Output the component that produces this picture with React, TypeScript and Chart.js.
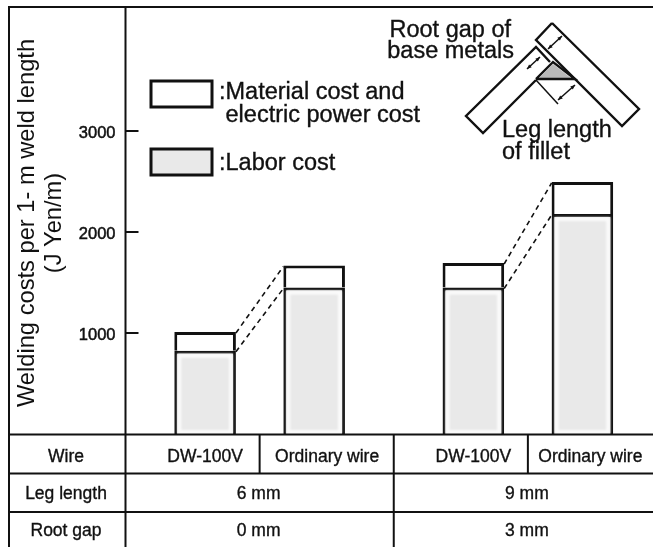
import React, { useEffect, useRef } from "react";
import { Chart, registerables } from "chart.js";

Chart.register(...registerables);

const groups = ["6 mm", "9 mm"];
const rootGaps = ["0 mm", "3 mm"];
const wires = ["DW-100V", "Ordinary wire"];
const dwLabor = [825, 1450];
const dwMaterial = [185, 243];
const ordinaryLabor = [1450, 2178];
const ordinaryMaterial = [218, 317];
const yTicks = [1000, 2000, 3000];
const rowLabels = ["Wire", "Leg length", "Root gap"];
const yTitle = ["Welding costs per 1- m weld length", "(J Yen/m)"];
const materialLegend = [":Material cost and", " electric power cost"];
const laborLegend = [":Labor cost"];
const rootGapNote = ["Root gap of", "base metals"];
const legNote = ["Leg length", "of fillet"];

const FONT = '"Liberation Sans", Arial, sans-serif';
const INK = "#111111";
const GREY = "#e9e9e9";

function line(ctx: CanvasRenderingContext2D, pts: number[], w = 2) {
  ctx.lineWidth = w;
  ctx.beginPath();
  ctx.moveTo(pts[0], pts[1]);
  for (let i = 2; i < pts.length; i += 2) ctx.lineTo(pts[i], pts[i + 1]);
  ctx.stroke();
}

function label(ctx: CanvasRenderingContext2D, s: string, x: number, y: number, size: number, align: CanvasTextAlign = "center") {
  ctx.font = `${size}px ${FONT}`;
  ctx.textAlign = align;
  ctx.textBaseline = "middle";
  ctx.fillText(s, x, y);
  ctx.lineWidth = 0.35;
  ctx.strokeText(s, x, y);
}

function arrow(ctx: CanvasRenderingContext2D, x1: number, y1: number, x2: number, y2: number) {
  line(ctx, [x1, y1, x2, y2], 1.5);
  const a = Math.atan2(y2 - y1, x2 - x1);
  for (const [x, y, d] of [[x1, y1, a], [x2, y2, a + Math.PI]]) {
    ctx.beginPath();
    ctx.moveTo(x, y);
    ctx.lineTo(x + 5 * Math.cos(d + 0.4), y + 5 * Math.sin(d + 0.4));
    ctx.lineTo(x + 5 * Math.cos(d - 0.4), y + 5 * Math.sin(d - 0.4));
    ctx.closePath();
    ctx.fill();
  }
}

const softenBars = {
  id: "softenBars",
  afterDatasetsDraw(chart: any) {
    const ctx = chart.ctx;
    ctx.save();
    ctx.strokeStyle = "rgba(255,255,255,0.8)";
    ctx.filter = "blur(1px)";
    ctx.lineWidth = 4;
    [0, 2].forEach((d) => {
      chart.getDatasetMeta(d).data.forEach((b: any) => {
        const h = b.height ?? b.base - b.y;
        ctx.strokeRect(b.x - b.width / 2 + 5, b.y + 5, b.width - 10, h - 7);
      });
    });
    ctx.restore();
  },
};

const overlay = {
  id: "overlay",
  afterDraw(chart: any) {
    const ctx: CanvasRenderingContext2D = chart.ctx;
    const { x: xs, y: ys } = chart.scales;
    const base = ys.getPixelForValue(0);
    const axisX = chart.chartArea.left;
    const right = 653;
    const rows = [base + 0.5, base + 39.5, base + 78, 547];
    const textY = [457, 494, 531];
    ctx.save();
    ctx.strokeStyle = INK;
    ctx.fillStyle = INK;

    // frame, axis, table rules
    line(ctx, [9, 547, 9, 7, right, 7], 2);
    line(ctx, [axisX, 7, axisX, 547], 2);
    rows.slice(0, 3).forEach((y) => line(ctx, [9, y, right, y], 2));
    ys.ticks.forEach((t: any) => {
      const y = ys.getPixelForValue(t.value);
      line(ctx, [axisX, y, axisX + 13, y], 2);
    });

    // table
    rowLabels.forEach((s, i) => label(ctx, s, 66, textY[i], 17.5));
    const mid = (xs.getPixelForValue(0) + xs.getPixelForValue(1)) / 2;
    line(ctx, [mid, rows[0], mid, 547], 2);
    const wireNudge = [[0, 13], [0, 8]];
    groups.forEach((g, i) => {
      const c = xs.getPixelForValue(i);
      line(ctx, [c, rows[0], c, rows[1]], 2);
      const barA = chart.getDatasetMeta(0).data[i];
      const barB = chart.getDatasetMeta(2).data[i];
      label(ctx, wires[0], barA.x + wireNudge[i][0], textY[0], 17.5);
      label(ctx, wires[1], barB.x + wireNudge[i][1], textY[0], 17.5);
      label(ctx, g, c - 1, textY[1], 17.5);
      label(ctx, rootGaps[i], c - 1, textY[2], 17.5);
    });

    // dashed connectors between the two wires of each group
    ctx.setLineDash([5, 4]);
    [[0, 2], [1, 3]].forEach(([a, b]) => {
      groups.forEach((_, i) => {
        const p = chart.getDatasetMeta(a).data[i];
        const q = chart.getDatasetMeta(b).data[i];
        line(ctx, [p.x + p.width / 2, p.y + 1, q.x - q.width / 2, q.y + 1], 1.6);
      });
    });
    ctx.setLineDash([]);

    // legend
    ctx.lineWidth = 3;
    ctx.strokeRect(151, 81, 61, 26);
    ctx.fillStyle = GREY;
    ctx.fillRect(151, 149, 61, 26);
    ctx.strokeRect(151, 149, 61, 26);
    ctx.fillStyle = INK;
    label(ctx, materialLegend[0], 219, 93, 23.5, "left");
    label(ctx, materialLegend[1], 219, 116, 23.5, "left");
    label(ctx, laborLegend[0], 219, 164, 23.5, "left");

    // fillet diagram
    label(ctx, rootGapNote[0], 511, 31, 23.5, "right");
    label(ctx, rootGapNote[1], 514, 52, 23.5, "right");
    label(ctx, legNote[0], 502, 131, 23.5, "left");
    label(ctx, legNote[1], 502, 153, 23.5, "left");
    ctx.lineJoin = "miter";
    line(ctx, [552, 23, 536, 40, 622, 126, 639, 109, 552, 23], 2.4);
    line(ctx, [550, 62, 536, 47, 466, 116, 483, 133, 536, 80], 2.4);
    ctx.fillStyle = "#b9b9b9";
    ctx.beginPath();
    ctx.moveTo(539, 78);
    ctx.lineTo(553, 64);
    ctx.lineTo(571, 78);
    ctx.closePath();
    ctx.fill();
    ctx.fillStyle = INK;
    line(ctx, [536, 79, 553, 62, 575, 79, 536, 79], 2.4);
    line(ctx, [536, 80, 558, 104], 1.5);
    arrow(ctx, 558, 100, 575, 85);
    arrow(ctx, 527, 69, 540, 57);
    arrow(ctx, 548, 49, 562, 36);
    ctx.restore();
  },
};

export default function App() {
  const ref = useRef<HTMLCanvasElement>(null);
  useEffect(() => {
    const border = { top: 3, left: 3, right: 3, bottom: 0 };
    const common = { borderColor: INK, borderWidth: border, borderSkipped: false, barPercentage: 0.565, categoryPercentage: 0.813 };
    const chart = new Chart(ref.current!, {
      type: "bar",
      data: {
        labels: groups,
        datasets: [
          { label: "Labor cost", stack: wires[0], data: dwLabor, backgroundColor: GREY, ...common },
          { label: "Material cost and electric power cost", stack: wires[0], data: dwMaterial, backgroundColor: "#ffffff", ...common },
          { label: "Labor cost", stack: wires[1], data: ordinaryLabor, backgroundColor: GREY, ...common },
          { label: "Material cost and electric power cost", stack: wires[1], data: ordinaryMaterial, backgroundColor: "#ffffff", ...common },
        ],
      } as any,
      options: {
        responsive: false,
        animation: false,
        layout: { padding: { top: 12, bottom: 113, left: 0, right: 0 } },
        plugins: { legend: { display: false }, tooltip: { enabled: false } },
        scales: {
          x: { display: false, stacked: true, grid: { display: false } },
          y: {
            stacked: true,
            min: 0,
            max: 4178,
            border: { display: false },
            grid: { display: false, drawTicks: false },
            afterBuildTicks: (s: any) => {
              s.ticks = yTicks.map((value) => ({ value }));
            },
            afterFit: (s: any) => {
              s.width = 125.5;
              s.paddingTop = 0;
              s.paddingBottom = 0;
            },
            ticks: { color: INK, font: { family: FONT, size: 16.5 }, padding: 10, labelOffset: 2, textStrokeColor: INK, textStrokeWidth: 0.5, callback: (v: any) => String(v) },
            title: { display: true, text: yTitle, color: INK, font: { family: FONT, size: 23.7, lineHeight: 1.15 }, padding: { top: 14, bottom: 0 } },
          },
        },
      } as any,
      plugins: [softenBars, overlay],
    });
    return () => chart.destroy();
  }, []);
  return (
    <div style={{ position: "fixed", left: 0, top: 0, width: 653, height: 547, overflow: "hidden", background: "#fff" }}>
      <canvas ref={ref} width={662} height={547} style={{ display: "block" }} />
    </div>
  );
}
